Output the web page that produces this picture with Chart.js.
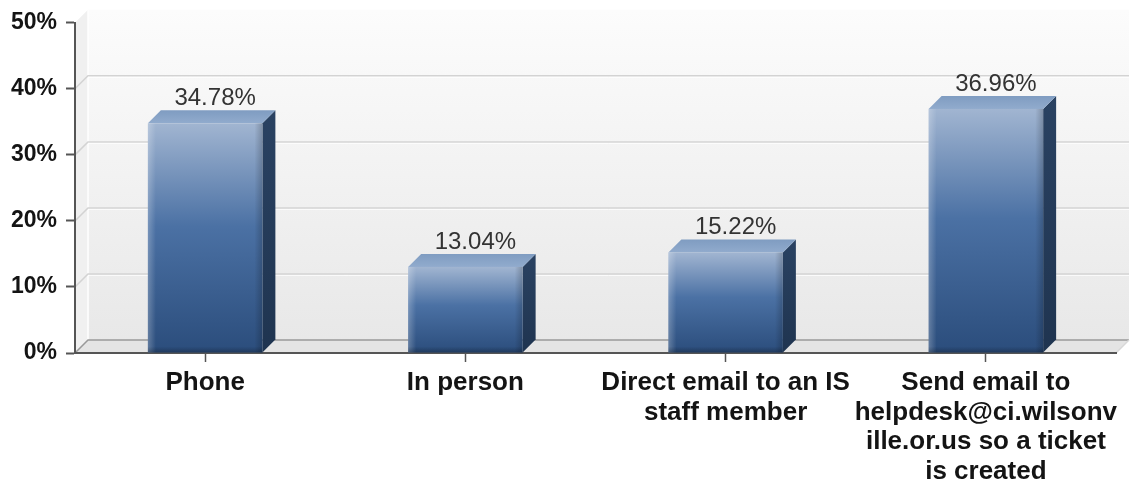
<!DOCTYPE html>
<html>
<head>
<meta charset="utf-8">
<script src="https://cdn.jsdelivr.net/npm/chart.js@4.4.1/dist/chart.umd.min.js"></script>
<style>
  html, body { margin: 0; padding: 0; background: #fff; }
  #wrap { width: 1134px; height: 486px; }
</style>
</head>
<body>
<div id="wrap"><canvas id="chart" width="1134" height="486"></canvas></div>
<script>
// data
const categories = [
    'Phone',
    'In person',
    ['Direct email to an IS', 'staff member'],
    ['Send email to', 'helpdesk@ci.wilsonv', 'ille.or.us so a ticket', 'is created']
];
const percentages = [34.78, 13.04, 15.22, 36.96];
const yTicks = [0, 10, 20, 30, 40, 50];

const DEPTH = 13;
const FONT = "'Liberation Sans', Arial, sans-serif";

// back wall, side wall, floor and gridlines
const wallPlugin = {
    id: 'wall3d',
    beforeDraw(chart) {
        const { ctx, chartArea: a, scales } = chart;
        const d = DEPTH;
        ctx.save();

        // back wall
        const g = ctx.createLinearGradient(0, a.top - d, 0, a.bottom - d);
        g.addColorStop(0, '#fcfcfc');
        g.addColorStop(1, '#e8e8e8');
        ctx.fillStyle = g;
        ctx.fillRect(a.left + d, a.top - d, a.right - a.left, a.bottom - a.top);

        // left side wall
        ctx.fillStyle = '#f0f0f0';
        ctx.beginPath();
        ctx.moveTo(a.left, a.top);
        ctx.lineTo(a.left + d, a.top - d);
        ctx.lineTo(a.left + d, a.bottom - d);
        ctx.lineTo(a.left, a.bottom);
        ctx.closePath();
        ctx.fill();

        // light edge of back wall
        ctx.strokeStyle = '#ffffff';
        ctx.lineWidth = 1.5;
        ctx.beginPath();
        ctx.moveTo(a.left + d, a.top - d);
        ctx.lineTo(a.left + d, a.bottom - d);
        ctx.stroke();

        // gridlines (none at the very top or bottom)
        yTicks.forEach(v => {
            if (v === 0 || v === yTicks[yTicks.length - 1]) return;
            const y = scales.y.getPixelForValue(v);
            ctx.strokeStyle = '#d3d3d3';
            ctx.lineWidth = 1.5;
            ctx.beginPath();
            ctx.moveTo(a.left, y);
            ctx.lineTo(a.left + d, y - d);
            ctx.lineTo(a.right + d, y - d);
            ctx.stroke();
            ctx.strokeStyle = 'rgba(255,255,255,0.8)';
            ctx.lineWidth = 1;
            ctx.beginPath();
            ctx.moveTo(a.left + d, y - d + 1.5);
            ctx.lineTo(a.right + d, y - d + 1.5);
            ctx.stroke();
        });

        // floor
        ctx.fillStyle = '#e4e4e4';
        ctx.beginPath();
        ctx.moveTo(a.left, a.bottom);
        ctx.lineTo(a.left + d, a.bottom - d);
        ctx.lineTo(a.right + d, a.bottom - d);
        ctx.lineTo(a.right, a.bottom);
        ctx.closePath();
        ctx.fill();
        ctx.strokeStyle = '#999999';
        ctx.lineWidth = 1.5;
        ctx.beginPath();
        ctx.moveTo(a.left, a.bottom);
        ctx.lineTo(a.left + d, a.bottom - d);
        ctx.lineTo(a.right + d, a.bottom - d);
        ctx.stroke();
        ctx.strokeStyle = '#d8d8d8';
        ctx.beginPath();
        ctx.moveTo(a.right + d, a.bottom - d);
        ctx.lineTo(a.right, a.bottom);
        ctx.stroke();

        ctx.restore();
    }
};

// the bars themselves, as prisms, plus value labels
const barsPlugin = {
    id: 'bars3d',
    afterDatasetsDraw(chart) {
        const { ctx } = chart;
        const d = DEPTH;
        const meta = chart.getDatasetMeta(0);
        ctx.save();
        meta.data.forEach((bar, i) => {
            const x0 = bar.x - bar.width / 2;
            const x1 = bar.x + bar.width / 2;
            const top = bar.y;
            const base = bar.base;

            // side
            const gs = ctx.createLinearGradient(0, top - d, 0, base);
            gs.addColorStop(0, '#2a4262');
            gs.addColorStop(1, '#1f3450');
            ctx.fillStyle = gs;
            ctx.beginPath();
            ctx.moveTo(x1, top);
            ctx.lineTo(x1 + d, top - d);
            ctx.lineTo(x1 + d, base - d);
            ctx.lineTo(x1, base);
            ctx.closePath();
            ctx.fill();

            // top
            const gt = ctx.createLinearGradient(0, top - d, 0, top);
            gt.addColorStop(0, '#7f9cc1');
            gt.addColorStop(1, '#91abcd');
            ctx.fillStyle = gt;
            ctx.beginPath();
            ctx.moveTo(x0, top);
            ctx.lineTo(x0 + d, top - d);
            ctx.lineTo(x1 + d, top - d);
            ctx.lineTo(x1, top);
            ctx.closePath();
            ctx.fill();

            // front
            const gf = ctx.createLinearGradient(0, top, 0, base);
            gf.addColorStop(0, '#a1b5d1');
            gf.addColorStop(0.45, '#4b71a4');
            gf.addColorStop(1, '#2b4d7c');
            ctx.fillStyle = gf;
            ctx.fillRect(x0, top, x1 - x0, base - top);

            // bevel
            const gl = ctx.createLinearGradient(x0, 0, x0 + 8, 0);
            gl.addColorStop(0, 'rgba(255,255,255,0.25)');
            gl.addColorStop(1, 'rgba(255,255,255,0)');
            ctx.fillStyle = gl;
            ctx.fillRect(x0, top, 8, base - top);
            const gr = ctx.createLinearGradient(x1 - 8, 0, x1, 0);
            gr.addColorStop(0, 'rgba(0,0,0,0)');
            gr.addColorStop(1, 'rgba(0,0,0,0.2)');
            ctx.fillStyle = gr;
            ctx.fillRect(x1 - 8, top, 8, base - top);
            const gb = ctx.createLinearGradient(0, base - 6, 0, base);
            gb.addColorStop(0, 'rgba(0,0,0,0)');
            gb.addColorStop(1, 'rgba(0,0,0,0.25)');
            ctx.fillStyle = gb;
            ctx.fillRect(x0, base - 6, x1 - x0, 6);

            // value label
            ctx.fillStyle = '#333333';
            ctx.font = '24px ' + FONT;
            ctx.textAlign = 'center';
            ctx.textBaseline = 'alphabetic';
            ctx.fillText(percentages[i].toFixed(2) + '%', bar.x + 10, top - d - 5);
        });
        ctx.restore();
    }
};

new Chart(document.getElementById('chart'), {
    type: 'bar',
    data: {
        labels: categories,
        datasets: [{
            data: percentages,
            backgroundColor: 'rgba(0,0,0,0)',
            borderWidth: 0,
            barPercentage: 0.88,
            categoryPercentage: 0.5
        }]
    },
    options: {
        responsive: false,
        animation: false,
        events: [],
        layout: { padding: { top: 20, right: 18, left: 0, bottom: 0 } },
        plugins: {
            legend: { display: false },
            tooltip: { enabled: false }
        },
        scales: {
            x: {
                grid: {
                    offset: false,
                    drawOnChartArea: false,
                    drawTicks: true,
                    tickLength: 9,
                    tickColor: '#555555',
                    tickWidth: 1.5
                },
                border: { display: true, color: '#555555', width: 2 },
                ticks: {
                    autoSkip: false,
                    maxRotation: 0,
                    padding: 6,
                    color: '#141414',
                    font: { family: FONT, size: 26, weight: 'bold', lineHeight: 1.14 }
                },
                afterFit(scale) { scale.height = 133; }
            },
            y: {
                min: 0,
                max: 50,
                grid: {
                    drawOnChartArea: false,
                    drawTicks: true,
                    tickLength: 9,
                    tickColor: '#555555',
                    tickWidth: 2
                },
                border: { display: true, color: '#555555', width: 2 },
                ticks: {
                    stepSize: 10,
                    padding: 9,
                    color: '#141414',
                    font: { family: FONT, size: 23, weight: 'bold' },
                    callback: v => v + '%'
                },
                afterFit(scale) { scale.width = 75; }
            }
        }
    },
    plugins: [wallPlugin, barsPlugin]
});
</script>
</body>
</html>
